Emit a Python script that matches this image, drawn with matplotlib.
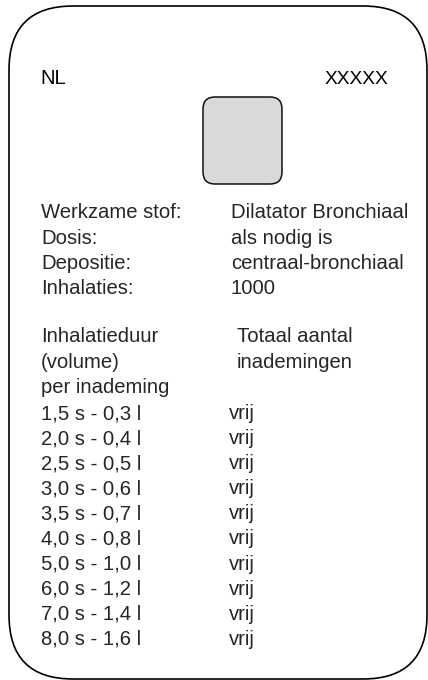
import matplotlib
matplotlib.use("Agg")
import matplotlib.pyplot as plt
from matplotlib.patches import FancyBboxPatch

# ---- data ----
country = "NL"
code = "XXXXX"
info_labels = ["Werkzame stof:", "Dosis:", "Depositie:", "Inhalaties:"]
info_values = ["Dilatator Bronchiaal", "als nodig is", "centraal-bronchiaal", "1000"]
header_left = ["Inhalatieduur", "(volume)", "per inademing"]
header_right = ["Totaal aantal", "inademingen"]
durations_s = [1.5, 2.0, 2.5, 3.0, 3.5, 4.0, 5.0, 6.0, 7.0, 8.0]
volumes_l = [0.3, 0.4, 0.5, 0.6, 0.7, 0.8, 1.0, 1.2, 1.4, 1.6]
totals = ["vrij"] * 10

def fmt(v):
    return f"{v:.1f}".replace(".", ",")

W, H = 428, 680
fig = plt.figure(figsize=(W / 100, H / 100), dpi=100)
ax = fig.add_axes([0, 0, 1, 1])
ax.set_xlim(0, W)
ax.set_ylim(H, 0)
ax.axis("off")

FONT = "Liberation Sans"
FS = 14.6
TC = "#262626"

# card outline
r = 64
card = FancyBboxPatch((9 + r, 6 + r), 427 - 9 - 2 * r, 679 - 6 - 2 * r,
                      boxstyle=f"round,pad={r}", facecolor="white",
                      edgecolor="black", linewidth=1.2)
ax.add_patch(card)

# grey chip
cr = 12
chip = FancyBboxPatch((203 + cr, 97 + cr), 282 - 203 - 2 * cr, 184 - 97 - 2 * cr,
                      boxstyle=f"round,pad={cr}", facecolor="#d9d9d9",
                      edgecolor="#111111", linewidth=1.1)
ax.add_patch(chip)

ax.text(40, 84, country, fontsize=FS, family=FONT, color="black", va="baseline", ha="left")
ax.text(388, 84, code, fontsize=FS - 0.8, family=FONT, color="black", va="baseline", ha="right")

xl, xr = 41, 231
step = 25.5
for i, (lab, val) in enumerate(zip(info_labels, info_values)):
    y = 218 + i * step
    ax.text(xl, y, lab, fontsize=FS, family=FONT, color=TC, va="baseline")
    ax.text(xr, y, val, fontsize=FS, family=FONT, color=TC, va="baseline")

for i, lab in enumerate(header_left):
    ax.text(xl, 342 + i * step, lab, fontsize=FS, family=FONT, color=TC, va="baseline")
for i, lab in enumerate(header_right):
    ax.text(237, 342 + i * step, lab, fontsize=FS, family=FONT, color=TC, va="baseline")

rstep = 25.1
for i, (d, v, t) in enumerate(zip(durations_s, volumes_l, totals)):
    y = 419 + i * rstep
    ax.text(xl, y, f"{fmt(d)} s - {fmt(v)} l", fontsize=FS, family=FONT, color=TC, va="baseline")
    ax.text(229, y, t, fontsize=FS, family=FONT, color=TC, va="baseline")

fig.savefig("out.png", dpi=100)
